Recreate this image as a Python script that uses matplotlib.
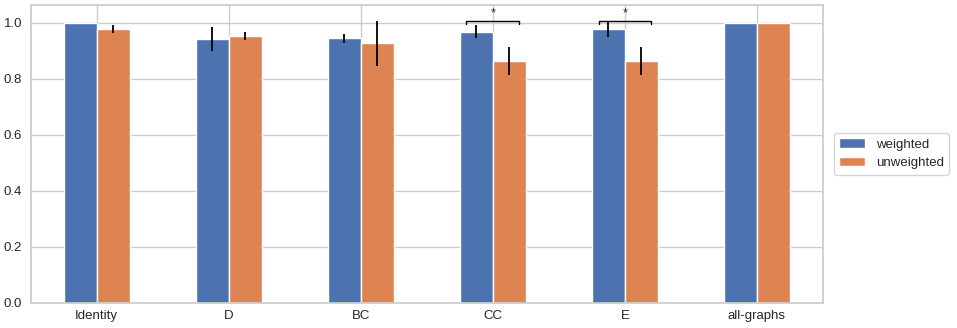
import numpy as np
import matplotlib.pyplot as plt
import seaborn as sns

sns.set_theme(style="whitegrid")
plt.rcParams['font.family'] = ['Liberation Sans', 'DejaVu Sans']

# data
categories = ['Identity', 'D', 'BC', 'CC', 'E', 'all-graphs']
weighted = [1.0, 0.942, 0.945, 0.969, 0.977, 1.0]
weighted_err = [0.0, 0.043, 0.016, 0.024, 0.027, 0.0]
unweighted = [0.978, 0.954, 0.927, 0.864, 0.864, 1.0]
unweighted_err = [0.015, 0.014, 0.08, 0.049, 0.049, 0.0]
significant = ['CC', 'E']

fig, ax = plt.subplots(figsize=(9.57, 3.28), dpi=100)
x = np.arange(len(categories))
w = 0.25

colors = sns.color_palette()
ax.bar(x - w / 2, weighted, w, yerr=weighted_err, color=colors[0],
       label='weighted', error_kw=dict(ecolor='black', elinewidth=1.3))
ax.bar(x + w / 2, unweighted, w, yerr=unweighted_err, color=colors[1],
       label='unweighted', error_kw=dict(ecolor='black', elinewidth=1.3))

# significance brackets
for cat in significant:
    i = categories.index(cat)
    y = 1.005
    ax.plot([i - 0.2, i - 0.2, i + 0.2, i + 0.2], [y - 0.01, y, y, y - 0.01],
            color='black', lw=1)
    ax.text(i, y + 0.006, '*', ha='center', va='bottom', fontsize=9)

ax.set_xticks(x)
ax.set_xticklabels(categories, rotation=0)
ax.set_xlim(-0.5, len(categories) - 0.5)
ax.set_ylim(0, 1.064)
ax.tick_params(labelsize=9.5, length=0)
ax.tick_params(axis='y', pad=6)
ax.tick_params(axis='x', pad=5)
ax.legend(loc='center left', bbox_to_anchor=(1.005, 0.5), fontsize=9.5)

fig.subplots_adjust(left=0.032, right=0.86, top=0.985, bottom=0.077)
fig.savefig('out.png', dpi=100)
